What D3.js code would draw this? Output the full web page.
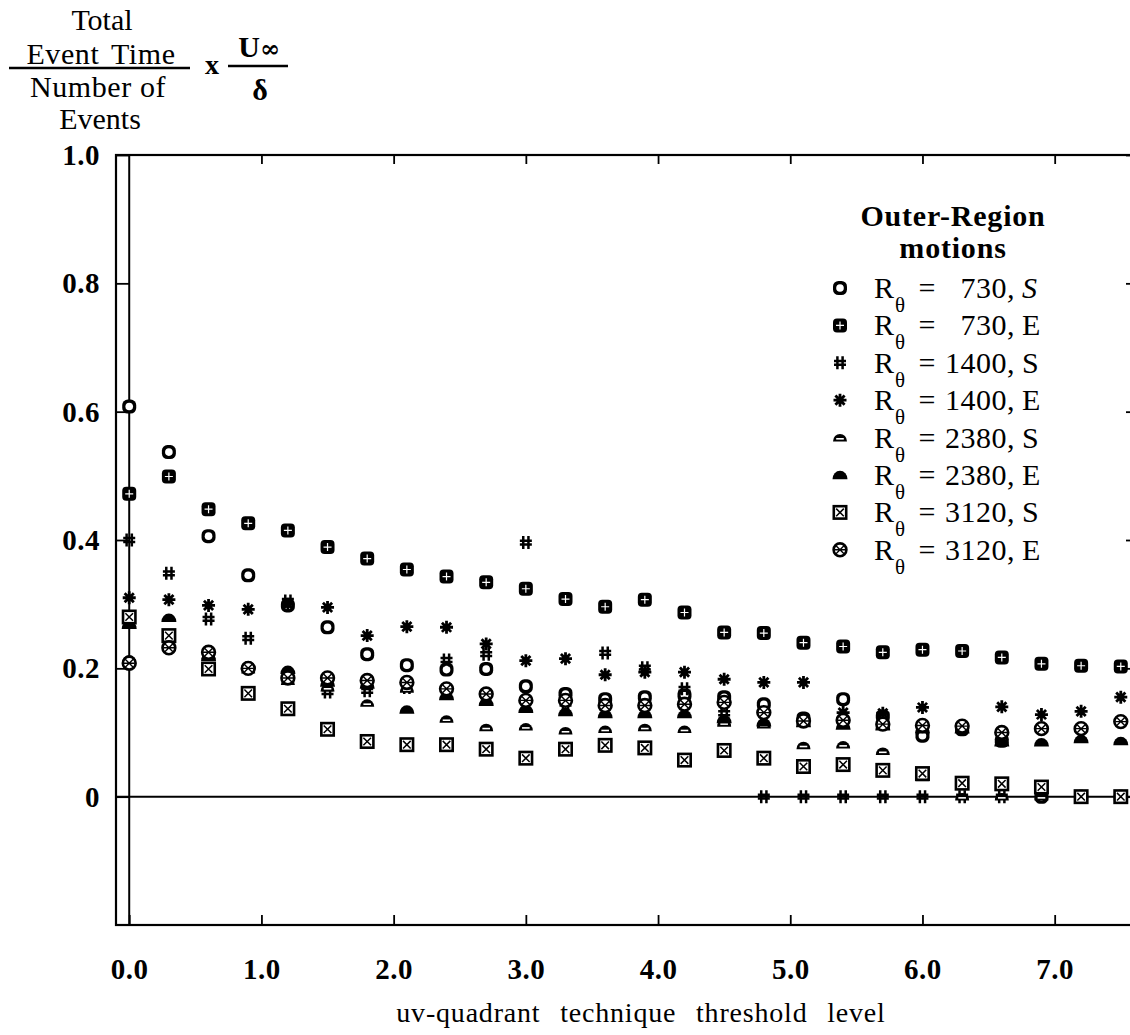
<!DOCTYPE html>
<html>
<head>
<meta charset="utf-8">
<script src="https://cdn.jsdelivr.net/npm/d3@7/dist/d3.min.js"></script>
<style>
  body { margin: 0; background: #fff; }
  text { font-family: "Liberation Serif", "Times New Roman", serif; fill: #000; }
</style>
</head>
<body>
<div id="chart"></div>
<script>
// threshold levels (x) and the eight series
var thresholds = [0.0, 0.3, 0.6, 0.9, 1.2, 1.5, 1.8, 2.1, 2.4, 2.7, 3.0, 3.3, 3.6,
                  3.9, 4.2, 4.5, 4.8, 5.1, 5.4, 5.7, 6.0, 6.3, 6.6, 6.9, 7.2, 7.5];

var re730S  = [0.608, 0.537, 0.406, 0.345, 0.298, 0.264, 0.222, 0.205, 0.198, 0.199, 0.172, 0.160, 0.152,
               0.155, 0.158, 0.155, 0.144, 0.122, 0.152, 0.125, 0.095, 0.105, 0.087, 0.000, 0.000, 0.000];
var re730E  = [0.472, 0.499, 0.448, 0.426, 0.415, 0.389, 0.371, 0.354, 0.343, 0.334, 0.324, 0.308, 0.296,
               0.307, 0.287, 0.256, 0.255, 0.240, 0.234, 0.225, 0.229, 0.227, 0.217, 0.207, 0.204, 0.203];
var re1400S = [0.400, 0.348, 0.277, 0.247, 0.305, 0.163, 0.165, 0.170, 0.213, 0.222, 0.396, 0.145, 0.224,
               0.201, 0.168, 0.130, 0.000, 0.000, 0.000, 0.000, 0.000, 0.000, 0.000, 0.000, 0.000, 0.000];
var re1400E = [0.310, 0.307, 0.298, 0.292, 0.300, 0.295, 0.251, 0.265, 0.264, 0.238, 0.212, 0.215, 0.190,
               0.194, 0.194, 0.183, 0.178, 0.178, 0.131, 0.130, 0.139, 0.108, 0.140, 0.128, 0.133, 0.155];
var re2380S = [0.215, 0.245, 0.220, 0.198, 0.180, 0.170, 0.146, 0.168, 0.121, 0.108, 0.109, 0.103, 0.105,
               0.108, 0.105, 0.115, 0.112, 0.080, 0.081, 0.071, 0.030, 0.000, 0.000, 0.000, 0.000, 0.000];
var re2380E = [0.268, 0.279, 0.218, 0.205, 0.198, 0.178, 0.175, 0.136, 0.157, 0.148, 0.137, 0.132, 0.129,
               0.129, 0.129, 0.121, 0.116, 0.115, 0.111, 0.110, 0.105, 0.105, 0.085, 0.085, 0.090, 0.087];
var re3120S = [0.280, 0.251, 0.199, 0.161, 0.137, 0.105, 0.086, 0.081, 0.081, 0.074, 0.060, 0.074, 0.080,
               0.076, 0.057, 0.072, 0.060, 0.047, 0.050, 0.041, 0.036, 0.021, 0.020, 0.015, 0.000, 0.000];
var re3120E = [0.208, 0.232, 0.225, 0.200, 0.185, 0.185, 0.181, 0.178, 0.168, 0.160, 0.150, 0.150, 0.142,
               0.142, 0.144, 0.147, 0.131, 0.118, 0.119, 0.113, 0.111, 0.110, 0.100, 0.106, 0.106, 0.117];

var xTicks = [0, 1, 2, 3, 4, 5, 6, 7];
var xTickLabels = ["0.0", "1.0", "2.0", "3.0", "4.0", "5.0", "6.0", "7.0"];
var yTicks = [0, 0.2, 0.4, 0.6, 0.8, 1.0];
var yTickLabels = ["0", "0.2", "0.4", "0.6", "0.8", "1.0"];

var legendNumbers = ["730", "730", "1400", "1400", "2380", "2380", "3120", "3120"];
var legendCases   = ["S", "E", "S", "E", "S", "E", "S", "E"];
var markerTypes   = ["oS", "oE", "hS", "hE", "dS", "dE", "xS", "xE"];

var series = [re730S, re730E, re1400S, re1400E, re2380S, re2380E, re3120S, re3120E];

var serif = '"Liberation Serif", "Times New Roman", serif';
var width = 1130, height = 1035;

var svg = d3.select("#chart").append("svg")
    .attr("width", width)
    .attr("height", height);

svg.append("rect").attr("width", width).attr("height", height).attr("fill", "#fff");

var x = d3.scaleLinear().domain([-0.1, 7.6]).range([116, 1134]);
var y = d3.scaleLinear().domain([-0.2, 1.0]).range([925, 155]);

// frame
svg.append("rect")
    .attr("x", x(-0.1)).attr("y", y(1.0))
    .attr("width", x(7.6) - x(-0.1)).attr("height", y(-0.2) - y(1.0))
    .attr("fill", "none").attr("stroke", "#000").attr("stroke-width", 2.2);

// inner vertical line at x = 0 and zero line
svg.append("line")
    .attr("x1", x(0)).attr("x2", x(0)).attr("y1", y(1.0)).attr("y2", y(-0.2))
    .attr("stroke", "#000").attr("stroke-width", 2);
svg.append("line")
    .attr("x1", x(-0.1)).attr("x2", x(7.6)).attr("y1", y(0)).attr("y2", y(0))
    .attr("stroke", "#000").attr("stroke-width", 2);

// axes
var bottomAxis = svg.append("g")
    .attr("transform", "translate(0," + y(-0.2) + ")")
    .call(d3.axisBottom(x).tickValues(xTicks).tickSize(-10).tickPadding(33)
      .tickFormat(function(d, i) { return xTickLabels[i]; }));

var topAxis = svg.append("g")
    .attr("transform", "translate(0," + y(1.0) + ")")
    .call(d3.axisTop(x).tickValues(xTicks.slice(1)).tickSize(-9).tickFormat(""));

var leftAxis = svg.append("g")
    .attr("transform", "translate(" + x(-0.1) + ",0)")
    .call(d3.axisLeft(y).tickValues(yTicks).tickSize(-(x(0) - x(-0.1))).tickPadding(16)
      .tickFormat(function(d, i) { return yTickLabels[i]; }));

var rightAxis = svg.append("g")
    .attr("transform", "translate(" + x(7.6) + ",0)")
    .call(d3.axisRight(y).tickValues(yTicks).tickSize(-8).tickFormat(""));

[bottomAxis, topAxis, leftAxis, rightAxis].forEach(function(a) {
  a.attr("font-family", serif);
  a.select(".domain").remove();
  a.selectAll(".tick line").attr("stroke", "#000").attr("stroke-width", 1.8);
  a.selectAll(".tick text")
    .style("font-family", serif)
    .style("font-size", "29px")
    .style("font-weight", "bold")
    .style("letter-spacing", "0.5px")
    .attr("fill", "#000");
});
leftAxis.selectAll(".tick text").attr("dy", "0.33em");

// marker glyphs
function drawMarker(g, type) {
  if (type === "oS") {
    g.append("rect").attr("x", -7).attr("y", -7).attr("width", 14).attr("height", 14)
      .attr("rx", 5.5).attr("fill", "#000");
    g.append("circle").attr("r", 3.8).attr("fill", "#fff");
  } else if (type === "oE") {
    g.append("rect").attr("x", -7).attr("y", -7).attr("width", 14).attr("height", 14)
      .attr("rx", 4).attr("fill", "#000");
    g.append("path").attr("d", "M0,-4V4M-4,0H4")
      .attr("stroke", "#fff").attr("stroke-width", 1.2);
  } else if (type === "hS") {
    g.append("path").attr("d", "M-2.6,-6.5V6.5M2.6,-6.5V6.5M-6,-1.9H6M-6,1.9H6")
      .attr("stroke", "#000").attr("stroke-width", 2.5).attr("fill", "none");
  } else if (type === "hE") {
    g.append("path").attr("d", "M0,-6.5V6.5M-6.5,0H6.5M-4.6,-4.6L4.6,4.6M-4.6,4.6L4.6,-4.6")
      .attr("stroke", "#000").attr("stroke-width", 2.8);
    g.append("circle").attr("r", 3.3).attr("fill", "#000");
  } else if (type === "dS") {
    g.append("path").attr("d", "M-7,3.8A7,7.5 0 0 1 7,3.8Z").attr("fill", "#000");
    g.append("path").attr("d", "M-3.8,1.2H3.8").attr("stroke", "#fff").attr("stroke-width", 1.6);
  } else if (type === "dE") {
    g.append("path").attr("d", "M-7.5,4.3A7.5,8.5 0 0 1 7.5,4.3Z").attr("fill", "#000");
  } else if (type === "xS") {
    g.append("rect").attr("x", -6.2).attr("y", -6.2).attr("width", 12.4).attr("height", 12.4)
      .attr("fill", "#fff").attr("stroke", "#000").attr("stroke-width", 2.6);
    g.append("path").attr("d", "M-3.8,-3.8L3.8,3.8M-3.8,3.8L3.8,-3.8")
      .attr("stroke", "#000").attr("stroke-width", 1.5);
  } else if (type === "xE") {
    g.append("circle").attr("r", 6.4).attr("fill", "#fff")
      .attr("stroke", "#000").attr("stroke-width", 2.6);
    g.append("path").attr("d", "M-4,-4L4,4M-4,4L4,-4M-5.5,0H5.5")
      .attr("stroke", "#000").attr("stroke-width", 1.4);
  }
}

// data points
series.forEach(function(vals, si) {
  var grp = svg.append("g").attr("class", "series-" + si);
  grp.selectAll("g")
    .data(vals)
    .enter()
    .append("g")
      .attr("transform", function(d, i) {
        return "translate(" + x(thresholds[i]) + "," + y(d) + ")";
      })
      .each(function() { drawMarker(d3.select(this), markerTypes[si]); });
});

// legend
var legend = svg.append("g");
legend.append("text").attr("x", 953).attr("y", 226).attr("text-anchor", "middle")
  .style("font-size", "30px").style("font-weight", "bold").style("letter-spacing", "0.8px")
  .text("Outer-Region");
legend.append("text").attr("x", 953).attr("y", 258).attr("text-anchor", "middle")
  .style("font-size", "30px").style("font-weight", "bold").style("letter-spacing", "0.8px")
  .text("motions");

legendNumbers.forEach(function(num, i) {
  var base = 298 + i * 37.4;
  var row = legend.append("g");
  drawMarker(row.append("g").attr("transform", "translate(840," + (base - 10) + ")"), markerTypes[i]);
  row.append("text").attr("x", 874).attr("y", base).style("font-size", "30px").text("R");
  row.append("text").attr("x", 895).attr("y", base + 14).style("font-size", "21px").text("θ");
  row.append("text").attr("x", 927).attr("y", base).attr("text-anchor", "middle")
    .style("font-size", "30px").text("=");
  row.append("text").attr("x", 1007).attr("y", base).attr("text-anchor", "end")
    .style("font-size", "30px").style("letter-spacing", "0.5px").text(num);
  row.append("text").attr("x", 1007).attr("y", base).style("font-size", "30px")
    .style("font-style", legendCases[i] === "S" && num === "730" ? "italic" : "normal")
    .text(", " + legendCases[i]);
});

// y-axis title (fraction)
var title = svg.append("g");
title.append("text").attr("x", 102).attr("y", 30).attr("text-anchor", "middle")
  .style("font-size", "30px").text("Total");
title.append("text").attr("x", 101).attr("y", 64).attr("text-anchor", "middle")
  .style("font-size", "30px").style("letter-spacing", "0.6px").style("word-spacing", "4px")
  .text("Event Time");
title.append("line").attr("x1", 9).attr("x2", 190).attr("y1", 68).attr("y2", 68)
  .attr("stroke", "#000").attr("stroke-width", 2.5);
title.append("text").attr("x", 98).attr("y", 97).attr("text-anchor", "middle")
  .style("font-size", "30px").style("letter-spacing", "0.6px")
  .text("Number of");
title.append("text").attr("x", 100).attr("y", 129).attr("text-anchor", "middle")
  .style("font-size", "30px").text("Events");
title.append("text").attr("x", 212).attr("y", 74).attr("text-anchor", "middle")
  .style("font-size", "28px").style("font-weight", "bold").text("x");
title.append("text").attr("x", 249).attr("y", 57).attr("text-anchor", "middle")
  .style("font-size", "30px").style("font-weight", "bold").text("U");
title.append("text").attr("x", 270).attr("y", 57).attr("text-anchor", "middle")
  .style("font-family", '"DejaVu Serif", serif')
  .style("font-size", "24px").style("font-weight", "bold").text("∞");
title.append("line").attr("x1", 228).attr("x2", 288).attr("y1", 66).attr("y2", 66)
  .attr("stroke", "#000").attr("stroke-width", 2.5);
title.append("text").attr("x", 260).attr("y", 100).attr("text-anchor", "middle")
  .style("font-size", "30px").style("font-weight", "bold").text("δ");

// x-axis title
svg.append("text").attr("x", 641).attr("y", 1022).attr("text-anchor", "middle")
  .style("font-size", "28px").style("letter-spacing", "0.8px").style("word-spacing", "12px")
  .text("uv-quadrant technique threshold level");
</script>
</body>
</html>
